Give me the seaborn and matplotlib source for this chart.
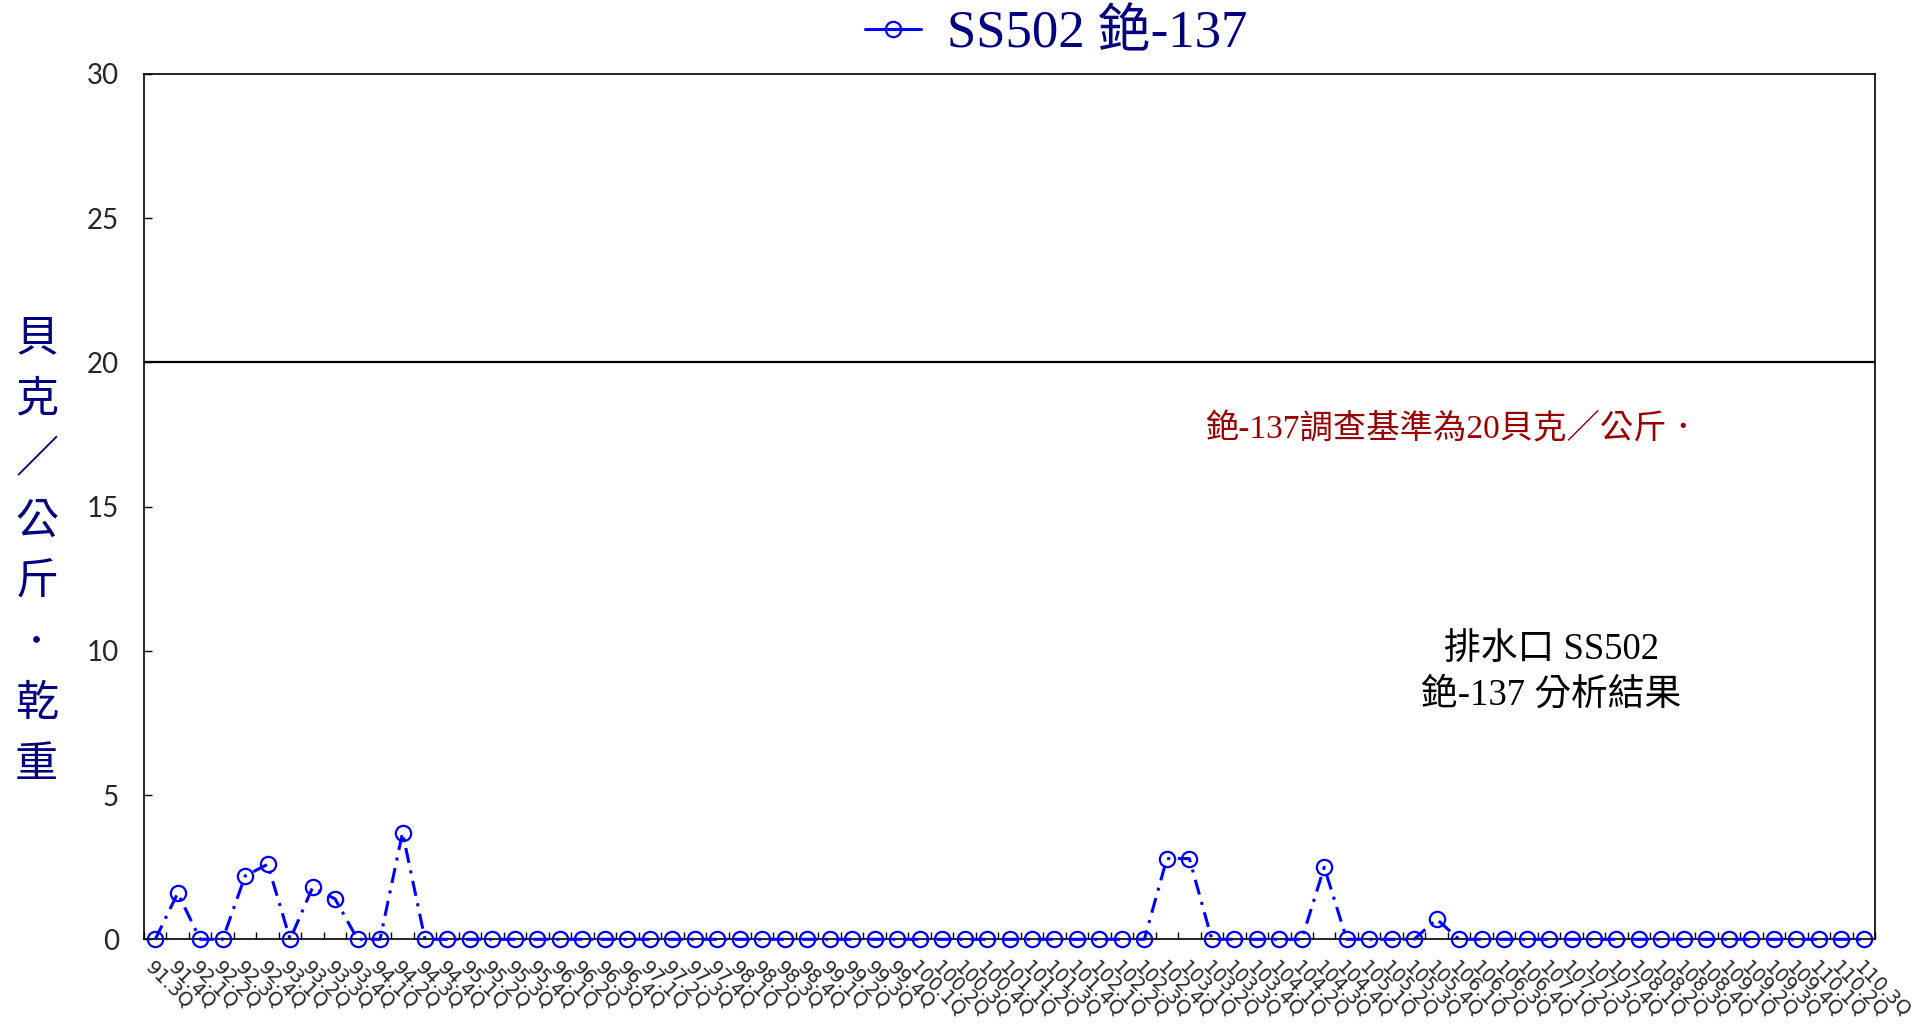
import numpy as np
import pandas as pd
import matplotlib
matplotlib.use('Agg')
import matplotlib.pyplot as plt
from matplotlib.lines import Line2D
import seaborn as sns

# quarterly sampling periods (ROC years), 91.3Q .. 110.3Q
periods = [f'{yr}.{q}Q' for yr in range(91, 111) for q in range(1, 5)][2:-1]

# Cs-137 results at outfall SS502 (Bq/kg dry weight), one row per year
cs137 = [
    0, 1.6,                 # 91
    0, 0, 2.2, 2.6,         # 92
    0, 1.8, 1.4, 0,         # 93
    0, 3.7, 0, 0,           # 94
    0, 0, 0, 0,             # 95
    0, 0, 0, 0,             # 96
    0, 0, 0, 0,             # 97
    0, 0, 0, 0,             # 98
    0, 0, 0, 0,             # 99
    0, 0, 0, 0,             # 100
    0, 0, 0, 0,             # 101
    0, 0, 0, 2.8,           # 102
    2.8, 0, 0, 0,           # 103
    0, 0, 2.5, 0,           # 104
    0, 0, 0, 0.7,           # 105
    0, 0, 0, 0,             # 106
    0, 0, 0, 0,             # 107
    0, 0, 0, 0,             # 108
    0, 0, 0, 0,             # 109
    0, 0, 0,                # 110
]
y_ticks = [0, 5, 10, 15, 20, 25, 30]
limit_value = 20

sns.set_theme(style='white')
plt.rcParams['font.family'] = ['Lato', 'Noto Sans CJK TC']
serif_cjk = ['Liberation Serif', 'Noto Sans CJK TC']

df = pd.DataFrame({'idx': np.arange(len(periods)), 'period': periods, 'value': cs137})

fig = plt.figure(figsize=(19.33, 10.26), dpi=100)
ax = fig.add_axes([0.0745, 0.0845, 0.8955, 0.8434])

blue = '#0000FF'
sns.lineplot(data=df, x='idx', y='value', ax=ax, errorbar=None,
             color=blue, lw=2.2, linestyle=(0, (5, 2.5, 1, 2.5)),
             marker='o', markersize=11, markerfacecolor='none',
             markeredgecolor=blue, markeredgewidth=1.6, clip_on=False, zorder=3)

# investigation level
ax.axhline(limit_value, color='black', lw=1.6, zorder=2)

ax.set_xlim(-0.5, len(periods) - 0.5)
ax.set_ylim(0, 30)
ax.set_yticks(y_ticks)
ax.set_xticks(df['idx'])
ax.set_xticklabels(periods, rotation=-45, ha='left', va='top',
                   rotation_mode='anchor', fontsize=14, family=['DejaVu Sans'])
ax.set_xticks(np.arange(-0.5, len(periods), 1), minor=True)
ax.tick_params(axis='x', which='major', length=0, pad=13)
ax.tick_params(axis='x', which='minor', direction='in', length=5, width=1, color='black', bottom=True)
ax.tick_params(axis='y', direction='in', length=6, width=1, color='black', left=True,
               labelsize=20, pad=18)
ax.set_xlabel('')
ax.set_ylabel('')
for s in ax.spines.values():
    s.set_color('black')
    s.set_linewidth(1.2)

# legend on top
handle = Line2D([], [], color=blue, lw=2.2, marker='o', ms=11, mfc='none', mec=blue, mew=1.6)
leg = ax.legend([handle], ['SS502 銫-137'], loc='center', bbox_to_anchor=(0.527, 1.046),
                frameon=False, handlelength=1.05, handletextpad=0.5,
                prop={'family': serif_cjk, 'size': 38})
for t in leg.get_texts():
    t.set_color('#000080')

# vertical y label
fig.text(0.019, 0.462, '\n'.join('貝克／公斤．乾重'), ha='center', va='center',
         fontsize=31, color='#000080', family=['Noto Sans CJK TC'], linespacing=1.5)

ax.text(0.613, 0.589, '銫-137調查基準為20貝克／公斤．', transform=ax.transAxes,
        ha='left', va='center', fontsize=24, color='#990000', family=serif_cjk)
ax.text(0.813, 0.308, '排水口 SS502\n銫-137 分析結果', transform=ax.transAxes,
        ha='center', va='center', fontsize=26.5, color='black', family=serif_cjk,
        linespacing=1.4)

fig.savefig('out.png', dpi=100)
plt.close()
